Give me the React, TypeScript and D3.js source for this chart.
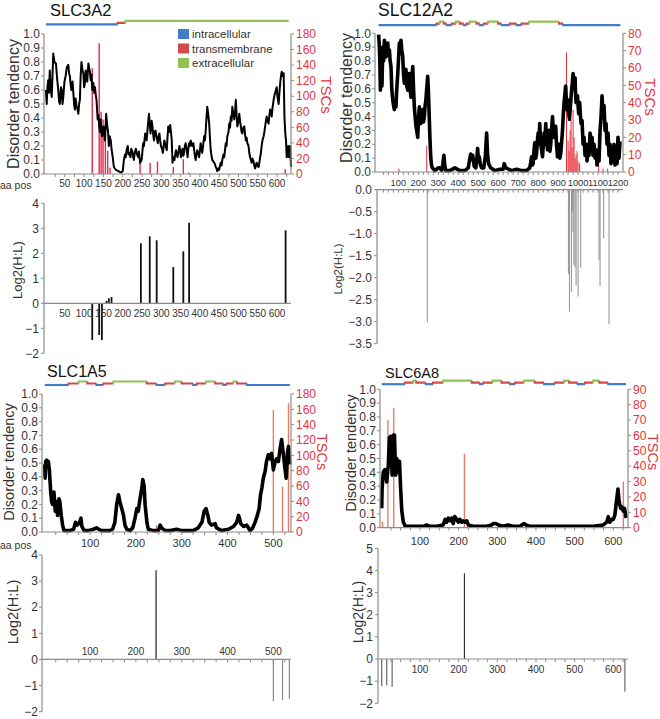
import React from "react";
import * as d3 from "d3";

type Pt = [number, number];
type Seg = [number, number, string];

// ---------------- SLC3A2 ----------------
const slc3a2Topology: Seg[] = [[1, 187, "in"], [187, 207, "tm"], [207, 630, "out"]];
const slc3a2Disorder: Pt[] = [[1,0.6],[3,0.5],[5,0.62],[7,0.67],[9,0.58],[11,0.74],[13,0.62],[16,0.55],[18,0.7],[20,0.86],[23,0.8],[27,0.79],[30,0.68],[33,0.6],[35,0.52],[37,0.5],[40,0.62],[42,0.6],[44,0.5],[46,0.55],[49,0.66],[52,0.7],[55,0.76],[59,0.78],[61,0.72],[63,0.7],[65,0.64],[67,0.6],[70,0.66],[72,0.58],[74,0.5],[76,0.46],[78,0.54],[80,0.49],[83,0.46],[85,0.43],[87,0.5],[89,0.53],[91,0.7],[93,0.8],[96,0.74],[98,0.72],[100,0.62],[102,0.65],[104,0.74],[106,0.7],[108,0.66],[111,0.79],[113,0.76],[115,0.73],[117,0.67],[119,0.71],[121,0.6],[124,0.65],[126,0.58],[128,0.62],[130,0.57],[132,0.53],[135,0.39],[137,0.42],[139,0.34],[141,0.3],[143,0.39],[146,0.27],[148,0.3],[150,0.34],[152,0.28],[154,0.24],[157,0.43],[160,0.34],[162,0.3],[164,0.2],[166,0.27],[169,0.24],[171,0.18],[174,0.12],[177,0.05],[182,0.03],[189,0.02],[195,0.01],[200,0.02],[203,0.1],[206,0.14],[208,0.12],[210,0.17],[213,0.2],[215,0.14],[217,0.15],[220,0.12],[222,0.18],[225,0.16],[227,0.12],[229,0.1],[231,0.15],[234,0.18],[237,0.14],[240,0.12],[242,0.16],[245,0.08],[249,0.1],[251,0.16],[253,0.22],[255,0.2],[258,0.29],[260,0.26],[262,0.24],[265,0.34],[268,0.43],[270,0.36],[272,0.29],[275,0.38],[277,0.34],[279,0.28],[281,0.24],[283,0.3],[285,0.31],[288,0.26],[291,0.22],[293,0.27],[295,0.29],[297,0.24],[299,0.2],[302,0.18],[304,0.15],[306,0.2],[308,0.24],[311,0.2],[314,0.17],[316,0.26],[318,0.34],[321,0.3],[323,0.35],[325,0.3],[327,0.24],[329,0.08],[331,0.12],[334,0.1],[336,0.14],[338,0.17],[340,0.14],[342,0.12],[345,0.17],[347,0.2],[349,0.16],[351,0.12],[353,0.16],[355,0.18],[357,0.13],[359,0.15],[361,0.2],[363,0.22],[366,0.17],[368,0.12],[370,0.18],[372,0.22],[374,0.2],[376,0.24],[378,0.22],[380,0.2],[383,0.22],[385,0.17],[387,0.13],[389,0.1],[391,0.14],[393,0.17],[396,0.14],[398,0.12],[400,0.17],[402,0.22],[404,0.18],[406,0.15],[409,0.22],[411,0.27],[413,0.24],[415,0.31],[417,0.4],[419,0.48],[421,0.44],[424,0.36],[426,0.26],[428,0.17],[430,0.13],[432,0.1],[435,0.09],[437,0.08],[439,0.07],[441,0.05],[443,0.04],[445,0.02],[448,0.04],[450,0.03],[452,0.06],[454,0.08],[456,0.06],[458,0.1],[461,0.14],[463,0.12],[465,0.17],[467,0.22],[469,0.2],[471,0.27],[474,0.3],[476,0.36],[478,0.33],[480,0.41],[482,0.38],[484,0.48],[486,0.44],[489,0.39],[491,0.44],[493,0.53],[495,0.42],[497,0.34],[500,0.38],[502,0.43],[504,0.38],[506,0.34],[508,0.3],[510,0.29],[512,0.33],[515,0.34],[517,0.28],[519,0.24],[521,0.26],[523,0.22],[526,0.2],[528,0.15],[530,0.12],[532,0.1],[534,0.08],[536,0.11],[539,0.09],[541,0.06],[543,0.04],[545,0.06],[547,0.08],[549,0.06],[552,0.05],[554,0.08],[556,0.12],[558,0.15],[560,0.2],[562,0.24],[565,0.27],[567,0.3],[569,0.34],[571,0.38],[573,0.41],[575,0.38],[578,0.36],[580,0.42],[582,0.46],[584,0.44],[586,0.41],[588,0.47],[591,0.53],[593,0.56],[595,0.58],[597,0.6],[599,0.62],[601,0.55],[604,0.5],[606,0.58],[608,0.65],[610,0.7],[612,0.73],[614,0.7],[617,0.72],[619,0.41],[621,0.3],[623,0.24],[625,0.12],[627,0.15],[629,0.2],[631,0.12],[634,0.2],[636,0.05]];
const slc3a2TSC: Pt[] = [[121,136],[139,168],[144,80],[149,70],[155,55],[161,30],[167,8],[245,16],[271,14],[290,16],[331,9],[357,19],[371,2],[621,6]];
const slc3a2Log2: Pt[] = [[121,-1.47],[139,-1.27],[146,-1.47],[158,0.1],[164,0.2],[171,0.25],[247,2.4],[270,2.68],[288,2.52],[331,1.45],[357,2.08],[372,3.22],[622,2.92]];
const slc3a2XLabels = [50,100,150,200,250,300,350,400,450,500,550,600];
const slc3a2TscTicks = [0,20,40,60,80,100,120,140,160,180];
const slc3a2Log2Ticks = [-2,-1,0,1,2,3,4];

// ---------------- SLC12A2 ----------------
const slc12a2Topology: Seg[] = [[1,292,"in"],[292,308,"tm"],[308,328,"out"],[328,342,"tm"],[342,367,"in"],[367,388,"tm"],[388,408,"out"],[408,428,"tm"],[428,442,"in"],[442,458,"tm"],[458,492,"out"],[492,508,"tm"],[508,528,"in"],[528,550,"tm"],[550,600,"out"],[600,617,"tm"],[617,658,"in"],[658,692,"tm"],[692,717,"in"],[717,755,"tm"],[755,905,"out"],[905,925,"tm"],[925,1212,"in"]];
const slc12a2Disorder: Pt[] = [[1,0.99],[4,0.93],[7,0.81],[10,0.59],[14,0.69],[18,0.62],[22,0.9],[26,0.8],[30,0.95],[34,0.86],[38,0.83],[42,0.9],[47,0.93],[51,0.84],[55,0.88],[59,0.8],[63,0.76],[67,0.6],[72,0.52],[76,0.48],[80,0.45],[84,0.5],[88,0.47],[92,0.6],[97,0.71],[101,0.82],[105,0.93],[109,0.86],[113,0.95],[117,0.88],[122,0.83],[126,0.7],[130,0.64],[134,0.72],[138,0.74],[142,0.62],[147,0.59],[151,0.68],[155,0.71],[159,0.6],[163,0.54],[167,0.66],[172,0.76],[176,0.6],[180,0.47],[184,0.4],[188,0.33],[192,0.3],[197,0.25],[201,0.38],[205,0.47],[209,0.4],[213,0.35],[217,0.42],[222,0.45],[226,0.36],[230,0.4],[234,0.48],[238,0.52],[242,0.6],[247,0.69],[250,0.6],[253,0.47],[258,0.25],[262,0.11],[266,0.05],[270,0.03],[283,0.01],[292,0.02],[300,0.03],[308,0.03],[317,0.01],[322,0.05],[328,0.12],[333,0.04],[338,0.01],[358,0.01],[383,0.03],[408,0.01],[433,0.01],[450,0.03],[456,0.08],[462,0.13],[467,0.09],[472,0.12],[480,0.04],[488,0.03],[493,0.1],[497,0.17],[501,0.08],[505,0.11],[511,0.05],[517,0.03],[528,0.03],[536,0.12],[542,0.28],[547,0.12],[552,0.06],[562,0.03],[583,0.01],[608,0.02],[625,0.02],[630,0.06],[638,0.03],[667,0.01],[692,0.02],[717,0.01],[742,0.01],[758,0.03],[763,0.07],[767,0.11],[771,0.05],[775,0.06],[779,0.15],[783,0.21],[788,0.1],[792,0.13],[796,0.22],[800,0.28],[804,0.2],[808,0.35],[812,0.22],[817,0.16],[822,0.11],[826,0.2],[830,0.28],[834,0.2],[838,0.35],[842,0.24],[847,0.16],[851,0.24],[855,0.3],[859,0.15],[863,0.2],[867,0.3],[872,0.4],[876,0.3],[880,0.25],[884,0.3],[888,0.33],[892,0.2],[897,0.11],[901,0.17],[905,0.2],[909,0.1],[913,0.13],[918,0.22],[922,0.3],[926,0.42],[930,0.5],[934,0.56],[938,0.62],[943,0.45],[946,0.5],[950,0.52],[953,0.42],[957,0.38],[960,0.44],[963,0.5],[968,0.6],[971,0.64],[975,0.71],[978,0.64],[980,0.6],[985,0.68],[987,0.58],[990,0.5],[994,0.52],[997,0.55],[1003,0.42],[1008,0.5],[1012,0.4],[1015,0.35],[1020,0.37],[1025,0.2],[1030,0.25],[1035,0.12],[1040,0.2],[1045,0.08],[1050,0.2],[1055,0.12],[1060,0.28],[1065,0.18],[1070,0.25],[1075,0.12],[1080,0.2],[1085,0.1],[1090,0.16],[1095,0.05],[1100,0.15],[1105,0.08],[1110,0.3],[1115,0.4],[1120,0.55],[1125,0.42],[1130,0.48],[1135,0.3],[1140,0.35],[1145,0.2],[1150,0.28],[1155,0.12],[1160,0.2],[1165,0.06],[1170,0.18],[1175,0.08],[1180,0.2],[1185,0.05],[1190,0.15],[1195,0.06],[1200,0.25],[1205,0.1],[1210,0.22]];
const slc12a2TSC: Pt[] = [[103,2],[242,15],[942,69],[950,18],[955,12],[960,24],[965,30],[970,14],[975,36],[980,20],[985,8],[990,10],[995,12],[1000,6],[1008,5],[1103,10],[1125,2],[1148,2]];
const slc12a2Log2: Pt[] = [[245,-3.02],[952,-1.92],[957,-2.77],[967,-2.32],[972,-0.5],[975,-0.95],[979,-1.71],[985,-1.76],[990,-2.17],[1000,-2.43],[1013,-1.77],[1105,-1.6],[1110,-2.19],[1128,-1.1],[1155,-3.06]];
const slc12a2XLabels = [100,200,300,400,500,600,700,800,900,1000,1100,1200];
const slc12a2TscTicks = [0,10,20,30,40,50,60,70,80];
const slc12a2Log2Ticks = [-3.5,-3,-2.5,-2,-1.5,-1,-0.5,0];

// ---------------- SLC1A5 ----------------
const slc1a5Topology: Seg[] = [[1,53,"in"],[53,75,"tm"],[75,94,"out"],[94,114,"tm"],[114,129,"in"],[129,151,"tm"],[151,224,"out"],[224,245,"tm"],[245,264,"in"],[264,285,"tm"],[285,300,"out"],[300,325,"tm"],[325,333,"in"],[333,353,"tm"],[353,373,"out"],[373,391,"tm"],[391,398,"in"],[398,413,"tm"],[413,421,"out"],[421,442,"tm"],[442,536,"in"]];
const slc1a5Disorder: Pt[] = [[1,0.49],[2,0.39],[3,0.51],[5,0.52],[9,0.51],[11,0.45],[14,0.29],[16,0.22],[18,0.2],[21,0.29],[24,0.15],[26,0.22],[29,0.12],[32,0.24],[34,0.22],[37,0.12],[40,0.05],[43,0.01],[49,0.01],[56,0.01],[64,0.02],[68,0.07],[72,0.05],[77,0.07],[80,0.1],[82,0.04],[87,0.01],[96,0.01],[107,0.02],[114,0.03],[119,0.02],[125,0.01],[136,0.01],[143,0.01],[149,0.02],[154,0.07],[158,0.2],[162,0.27],[165,0.22],[169,0.17],[173,0.12],[176,0.05],[180,0.02],[187,0.01],[193,0.03],[198,0.1],[202,0.17],[205,0.15],[209,0.24],[213,0.32],[215,0.38],[218,0.33],[220,0.2],[224,0.07],[227,0.02],[238,0.01],[249,0.01],[253,0.05],[256,0.03],[264,0.01],[275,0.01],[289,0.02],[300,0.01],[314,0.01],[325,0.01],[336,0.03],[344,0.07],[349,0.15],[353,0.17],[357,0.12],[360,0.07],[365,0.05],[373,0.06],[376,0.03],[387,0.01],[402,0.02],[413,0.04],[420,0.07],[424,0.12],[426,0.1],[429,0.06],[435,0.04],[442,0.05],[449,0.01],[455,0.03],[460,0.07],[465,0.12],[469,0.17],[472,0.27],[475,0.32],[478,0.39],[482,0.44],[485,0.51],[489,0.56],[493,0.53],[496,0.57],[500,0.45],[504,0.51],[507,0.53],[511,0.51],[515,0.61],[518,0.67],[522,0.56],[526,0.44],[528,0.39],[531,0.58],[533,0.62],[536,0.49]];
const slc1a5TSC: Pt[] = [[245,9],[500,159],[520,59],[533,168]];
const slc1a5Log2: Pt[] = [[244,3.42],[500,-1.6],[520,-1.55],[535,-1.5]];
const slc1a5XLabels = [100,200,300,400,500];
const slc1a5TscTicks = [0,20,40,60,80,100,120,140,160,180];
const slc1a5Log2Ticks = [-2,-1,0,1,2,3,4];

// ---------------- SLC6A8 ----------------
const slc6a8Topology: Seg[] = [[1,61,"in"],[61,83,"tm"],[83,91,"out"],[91,115,"tm"],[115,134,"in"],[134,160,"tm"],[160,234,"out"],[234,255,"tm"],[255,264,"in"],[264,288,"tm"],[288,311,"out"],[311,333,"tm"],[333,346,"in"],[346,369,"tm"],[369,397,"out"],[397,421,"tm"],[421,449,"in"],[449,473,"tm"],[473,486,"out"],[486,508,"tm"],[508,527,"in"],[527,548,"tm"],[548,564,"out"],[564,587,"tm"],[587,633,"in"]];
const slc6a8Disorder: Pt[] = [[1,0.14],[2,0.28],[5,0.4],[9,0.42],[14,0.33],[18,0.45],[21,0.65],[24,0.66],[28,0.38],[31,0.67],[34,0.67],[37,0.38],[40,0.5],[43,0.4],[47,0.48],[50,0.28],[53,0.12],[57,0.04],[62,0.01],[74,0.01],[91,0.01],[109,0.01],[117,0.02],[126,0.01],[143,0.01],[160,0.02],[165,0.06],[169,0.04],[173,0.07],[178,0.05],[182,0.07],[186,0.03],[190,0.08],[195,0.06],[199,0.04],[203,0.06],[208,0.04],[212,0.05],[216,0.04],[221,0.05],[225,0.02],[238,0.01],[255,0.01],[272,0.01],[285,0.02],[290,0.03],[296,0.03],[303,0.02],[315,0.01],[328,0.02],[341,0.01],[359,0.01],[369,0.03],[374,0.02],[384,0.01],[410,0.01],[445,0.01],[479,0.01],[514,0.01],[548,0.01],[574,0.02],[583,0.04],[587,0.08],[591,0.04],[596,0.06],[600,0.06],[604,0.09],[609,0.21],[612,0.28],[615,0.19],[619,0.14],[622,0.15],[626,0.12],[629,0.14],[633,0.07]];
const slc6a8TSC: Pt[] = [[3,4],[17,70],[32,78],[215,48],[626,30]];
const slc6a8Log2: Pt[] = [[1,-1.22],[14,-1.19],[28,-1.25],[215,3.87],[630,-1.48]];
const slc6a8XLabels = [100,200,300,400,500,600];
const slc6a8TscTicks = [0,10,20,30,40,50,60,70,80,90];
const slc6a8Log2Ticks = [-2,-1,0,1,2,3,4,5];

const disorderTicks = [0,0.1,0.2,0.3,0.4,0.5,0.6,0.7,0.8,0.9,1.0];
const legendItems = ["intracellular", "transmembrane", "extracellular"];
const legendKeys = ["in", "tm", "out"];

// ---------------- styles ----------------
const FONT = "'Liberation Sans', Arial, Helvetica, sans-serif";
const AXIS = "#8c8c8c";
const TXT = "#333";
const RED = "#e2343c";
const TOPO_COL: Record<string, string> = { in: "#3f7dca", tm: "#d24a4a", out: "#92c254" };
const TOPO_OFF: Record<string, number> = { in: 1.5, tm: 0, out: -2 };

interface Cfg {
  title: string; titleX: number; titleY: number; titleSize: number;
  topo: Seg[]; topoY: number;
  xDomain: [number, number]; xRange: [number, number]; xTickStep: number;
  disorder: Pt[]; lineW: number; dY: [number, number];
  tsc: Pt[]; tscTicks: number[]; tscColor: string; tscW: number;
  xLabels: number[]; xLabelY: number; xLabelSize: number; aaPosY: number | null;
  dLabel: [number, number, number]; tscLabel: [number, number, number];
  log2: Pt[]; log2Ticks: number[]; log2Range: [number, number]; log2AxisX: number; log2LabGap: number;
  log2Fmt: (v: number) => string; log2XLabels: "above" | "below" | "none"; log2XTicks: boolean;
  log2Label: [number, number, number]; log2Pos: string; log2Neg: string; log2W: number;
  legend: boolean;
}

function Panel({ c }: { c: Cfg }) {
  const x = d3.scaleLinear().domain(c.xDomain).range(c.xRange);
  const yD = d3.scaleLinear().domain([0, 1]).range(c.dY);
  const tMax = c.tscTicks[c.tscTicks.length - 1];
  const yT = d3.scaleLinear().domain([0, tMax]).range(c.dY);
  const lMin = c.log2Ticks[0], lMax = c.log2Ticks[c.log2Ticks.length - 1];
  const yL = d3.scaleLinear().domain([lMin, lMax]).range(c.log2Range);
  const line = d3.line<Pt>().x(d => x(d[0])).y(d => yD(d[1]));
  const [x0, x1] = c.xRange;
  const minorTicks = d3.range(c.xTickStep, c.xDomain[1], c.xTickStep);

  const topoPaths = c.topo.map((s, i) => {
    const prev = i > 0 ? c.topo[i - 1][2] : s[2];
    const yPrev = c.topoY + TOPO_OFF[prev];
    const yCur = c.topoY + TOPO_OFF[s[2]];
    const p = d3.path();
    p.moveTo(x(s[0]), yPrev);
    p.lineTo(x(s[0]), yCur);
    p.lineTo(x(s[1]), yCur);
    return <path key={i} d={p.toString()} stroke={TOPO_COL[s[2]]} strokeWidth={2.2} fill="none" />;
  });

  const zeroY = yL(0);
  return (
    <g fontFamily={FONT}>
      <text x={c.titleX} y={c.titleY} fontSize={c.titleSize} fill="#111">{c.title}</text>
      {topoPaths}
      {c.legend && legendItems.map((t, i) => (
        <g key={t}>
          <rect x={178} y={29 + i * 14.5} width={11} height={10} fill={TOPO_COL[legendKeys[i]]} />
          <text x={192} y={38 + i * 14.5} fontSize={11.5} fill={TXT}>{t}</text>
        </g>
      ))}
      {c.tsc.map((d, i) => (
        <line key={"t" + i} x1={x(d[0])} x2={x(d[0])} y1={yT(0)} y2={yT(d[1])} stroke={c.tscColor} strokeWidth={c.tscW} />
      ))}
      <path d={line(c.disorder) || ""} fill="none" stroke="#000" strokeWidth={c.lineW} strokeLinejoin="round" />
      <line x1={x0} x2={x0} y1={c.dY[0]} y2={c.dY[1]} stroke={AXIS} strokeWidth={1.2} />
      {disorderTicks.map(t => (
        <g key={"l" + t}>
          <line x1={x0 - 3} x2={x0} y1={yD(t)} y2={yD(t)} stroke={AXIS} />
          <text x={x0 - 4} y={yD(t)} dy="0.35em" textAnchor="end" fontSize={12} fill={TXT}>{t.toFixed(1)}</text>
        </g>
      ))}
      <line x1={x1} x2={x1} y1={c.dY[0]} y2={c.dY[1]} stroke={AXIS} strokeWidth={1.2} />
      {c.tscTicks.map(t => (
        <g key={"r" + t}>
          <line x1={x1} x2={x1 + 3} y1={yT(t)} y2={yT(t)} stroke={AXIS} />
          <text x={x1 + 5} y={yT(t)} dy="0.35em" fontSize={12} fill={RED}>{t}</text>
        </g>
      ))}
      <line x1={x0} x2={x1} y1={c.dY[0]} y2={c.dY[0]} stroke={AXIS} strokeWidth={1.2} />
      {minorTicks.map(t => (
        <line key={"m" + t} x1={x(t)} x2={x(t)} y1={c.dY[0]} y2={c.dY[0] + 3} stroke={AXIS} />
      ))}
      {c.xLabels.map(t => (
        <text key={"xl" + t} x={x(t)} y={c.xLabelY} textAnchor="middle" fontSize={c.xLabelSize} fill={TXT}>{t}</text>
      ))}
      {c.aaPosY !== null && <text x={0} y={c.aaPosY} fontSize={10.5} fill={TXT}>aa pos</text>}
      <text transform={`translate(${c.dLabel[0]},${c.dLabel[1]}) rotate(-90)`} textAnchor="middle" dominantBaseline="central" fontSize={c.dLabel[2]} fill={TXT}>Disorder tendency</text>
      <text transform={`translate(${c.tscLabel[0]},${c.tscLabel[1]}) rotate(90)`} textAnchor="middle" dominantBaseline="central" fontSize={c.tscLabel[2]} fill={RED}>TSCs</text>

      {c.log2.map((d, i) => (
        <line key={"b" + i} x1={x(d[0])} x2={x(d[0])} y1={zeroY} y2={yL(d[1])} stroke={d[1] >= 0 ? c.log2Pos : c.log2Neg} strokeWidth={c.log2W} />
      ))}
      <line x1={c.log2AxisX} x2={c.log2AxisX} y1={yL(lMin)} y2={yL(lMax)} stroke={AXIS} strokeWidth={1.2} />
      {c.log2Ticks.map(t => (
        <g key={"y2" + t}>
          <line x1={c.log2AxisX - 3} x2={c.log2AxisX} y1={yL(t)} y2={yL(t)} stroke={AXIS} />
          <text x={c.log2AxisX - c.log2LabGap} y={yL(t)} dy="0.35em" textAnchor="end" fontSize={12} fill={TXT}>{c.log2Fmt(t)}</text>
        </g>
      ))}
      <line x1={c.log2AxisX} x2={x1} y1={zeroY} y2={zeroY} stroke={AXIS} strokeWidth={1.2} />
      {c.log2XTicks && minorTicks.map(t => (
        <line key={"m2" + t} x1={x(t)} x2={x(t)} y1={zeroY} y2={zeroY + 3} stroke={AXIS} />
      ))}
      {c.log2XLabels !== "none" && c.xLabels.map(t => (
        <text key={"x2" + t} x={x(t)} y={c.log2XLabels === "above" ? zeroY - 4 : zeroY + 14} textAnchor="middle" fontSize={10} fill={TXT}>{t}</text>
      ))}
      <text transform={`translate(${c.log2Label[0]},${c.log2Label[1]}) rotate(-90)`} textAnchor="middle" dominantBaseline="central" fontSize={c.log2Label[2]} fill={TXT}>Log2(H:L)</text>
    </g>
  );
}

const fmtInt = (v: number) => d3.format("d")(v);
const fmt1 = (v: number) => d3.format(".1f")(v);

const panels: Cfg[] = [
  {
    title: "SLC3A2", titleX: 50, titleY: 16, titleSize: 16.5,
    topo: slc3a2Topology, topoY: 22.8,
    xDomain: [-4, 636], xRange: [44, 291], xTickStep: 25,
    disorder: slc3a2Disorder, lineW: 2, dY: [174, 34],
    tsc: slc3a2TSC, tscTicks: slc3a2TscTicks, tscColor: "#e8284a", tscW: 1.4,
    xLabels: slc3a2XLabels, xLabelY: 187, xLabelSize: 10, aaPosY: 189,
    dLabel: [13, 104, 16], tscLabel: [326, 95, 15],
    log2: slc3a2Log2, log2Ticks: slc3a2Log2Ticks, log2Range: [353.3, 203.3], log2AxisX: 44, log2LabGap: 5,
    log2Fmt: fmtInt, log2XLabels: "below", log2XTicks: false,
    log2Label: [17, 270, 13], log2Pos: "#111", log2Neg: "#111", log2W: 1.8,
    legend: true,
  },
  {
    title: "SLC12A2", titleX: 378, titleY: 16, titleSize: 17.5,
    topo: slc12a2Topology, topoY: 23.7,
    xDomain: [-17, 1225], xRange: [375, 623], xTickStep: 25,
    disorder: slc12a2Disorder, lineW: 3.6, dY: [172, 33.3],
    tsc: slc12a2TSC, tscTicks: slc12a2TscTicks, tscColor: "#e8303a", tscW: 1,
    xLabels: slc12a2XLabels, xLabelY: 185.5, xLabelSize: 9.3, aaPosY: null,
    dLabel: [346, 98, 16], tscLabel: [650, 97, 15],
    log2: slc12a2Log2, log2Ticks: slc12a2Log2Ticks, log2Range: [343.7, 189.7], log2AxisX: 377, log2LabGap: 5,
    log2Fmt: fmt1, log2XLabels: "none", log2XTicks: true,
    log2Label: [338, 269, 11.5], log2Pos: "#999", log2Neg: "#999", log2W: 1.1,
    legend: false,
  },
  {
    title: "SLC1A5", titleX: 47, titleY: 377, titleSize: 16,
    topo: slc1a5Topology, topoY: 383.5,
    xDomain: [-5, 538.5], xRange: [42, 291], xTickStep: 25,
    disorder: slc1a5Disorder, lineW: 3.6, dY: [532, 394],
    tsc: slc1a5TSC, tscTicks: slc1a5TscTicks, tscColor: "#ea7a66", tscW: 1.4,
    xLabels: slc1a5XLabels, xLabelY: 547, xLabelSize: 11, aaPosY: 548.5,
    dLabel: [9, 462, 14.5], tscLabel: [322, 452, 14.5],
    log2: slc1a5Log2, log2Ticks: slc1a5Log2Ticks, log2Range: [711.7, 555], log2AxisX: 42, log2LabGap: 4,
    log2Fmt: fmtInt, log2XLabels: "above", log2XTicks: true,
    log2Label: [13, 612, 14.5], log2Pos: "#222", log2Neg: "#888", log2W: 1.2,
    legend: false,
  },
  {
    title: "SLC6A8", titleX: 385, titleY: 377.5, titleSize: 14.5,
    topo: slc6a8Topology, topoY: 382.7,
    xDomain: [-3.4, 638], xRange: [380, 628], xTickStep: 25,
    disorder: slc6a8Disorder, lineW: 3.6, dY: [527.7, 389.3],
    tsc: slc6a8TSC, tscTicks: slc6a8TscTicks, tscColor: "#ea7a66", tscW: 1.4,
    xLabels: slc6a8XLabels, xLabelY: 545, xLabelSize: 11, aaPosY: null,
    dLabel: [351, 453, 14.5], tscLabel: [653, 452, 14.5],
    log2: slc6a8Log2, log2Ticks: slc6a8Log2Ticks, log2Range: [703.3, 548.3], log2AxisX: 378, log2LabGap: 5,
    log2Fmt: fmtInt, log2XLabels: "below", log2XTicks: true,
    log2Label: [358, 612, 14], log2Pos: "#333", log2Neg: "#666", log2W: 1.2,
    legend: false,
  },
];

export default function App() {
  return (
    <svg width={660} height={719} style={{ position: "absolute", left: 0, top: 0, background: "#fff" }}>
      <rect width={660} height={719} fill="#fff" />
      {panels.map(p => <Panel key={p.title} c={p} />)}
    </svg>
  );
}
